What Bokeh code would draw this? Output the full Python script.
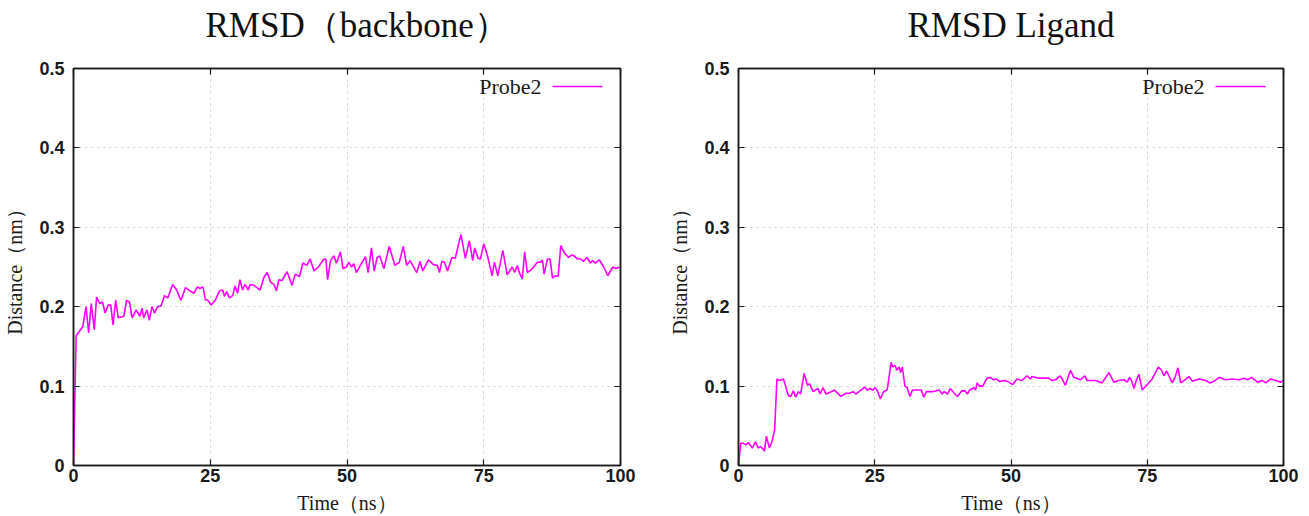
from bokeh.plotting import figure
from bokeh.layouts import row, column
from bokeh.models import Range1d, FixedTicker, LinearAxis, Label, Arrow
from bokeh.embed import file_html
from bokeh.resources import INLINE

# ---------------- data ----------------
titles = ["RMSD（backbone）", "RMSD Ligand"]
series_name = "Probe2"
x_label = "Time（ns）"
y_label = "Distance（nm）"
x_ticks = [0, 25, 50, 75, 100]
y_ticks = [0, 0.1, 0.2, 0.3, 0.4, 0.5]

time_backbone = [
    0.0, 0.48, 1.69, 2.29, 2.77, 3.25, 3.80, 4.22, 4.82, 5.30,
    5.78, 6.33, 6.81, 7.23, 7.71, 8.19, 9.22, 9.70, 10.24, 10.72,
    11.45, 12.11, 12.53, 12.83, 13.43, 13.86, 14.34, 14.82, 15.36, 16.02,
    16.63, 17.23, 18.13, 18.86, 19.64, 20.48, 21.27, 22.05, 22.65, 23.07,
    23.67, 24.10, 24.58, 25.18, 25.90, 26.69, 27.29, 27.59, 28.01, 28.49,
    29.10, 29.52, 30.00, 30.42, 30.90, 31.33, 31.93, 32.29, 33.01, 34.10,
    34.82, 35.42, 36.02, 36.63, 37.11, 37.53, 38.13, 39.04, 39.94, 40.54,
    41.33, 41.93, 42.65, 43.25, 43.98, 44.76, 45.66, 46.14, 46.45, 46.99,
    47.59, 48.07, 48.80, 49.26, 49.88, 50.37, 50.80, 51.23, 51.72, 52.45,
    53.37, 53.86, 54.47, 54.96, 55.51, 56.00, 56.74, 57.72, 58.76, 59.56,
    60.29, 60.91, 61.52, 62.75, 63.36, 63.85, 64.89, 65.81, 66.54, 66.91,
    67.34, 67.83, 68.38, 69.18, 69.79, 70.83, 71.63, 72.37, 72.98, 73.35,
    73.96, 74.39, 75.00, 75.61, 76.53, 76.96, 77.57, 78.49, 79.29, 80.21,
    80.64, 81.13, 81.56, 82.05, 82.48, 82.97, 83.88, 84.80, 85.42, 85.72,
    86.03, 86.64, 87.13, 87.56, 88.05, 88.60, 89.09, 89.71, 90.50, 91.05,
    91.54, 92.16, 92.77, 93.20, 93.87, 94.49, 94.91, 95.40, 96.14, 96.94,
    97.67, 98.59, 99.20, 99.82,
]
rmsd_backbone = [
    0.0, 0.163, 0.175, 0.200, 0.167, 0.204, 0.171, 0.212, 0.204, 0.206,
    0.192, 0.202, 0.202, 0.177, 0.208, 0.186, 0.188, 0.208, 0.206, 0.186,
    0.196, 0.188, 0.198, 0.186, 0.196, 0.183, 0.200, 0.192, 0.200, 0.201,
    0.214, 0.211, 0.228, 0.221, 0.208, 0.224, 0.220, 0.217, 0.225, 0.223,
    0.225, 0.209, 0.208, 0.202, 0.208, 0.220, 0.221, 0.213, 0.219, 0.211,
    0.214, 0.226, 0.217, 0.234, 0.221, 0.228, 0.221, 0.228, 0.227, 0.221,
    0.237, 0.243, 0.231, 0.228, 0.220, 0.234, 0.233, 0.244, 0.227, 0.241,
    0.238, 0.255, 0.252, 0.260, 0.245, 0.250, 0.259, 0.260, 0.234, 0.258,
    0.264, 0.255, 0.269, 0.248, 0.250, 0.256, 0.250, 0.254, 0.243, 0.252,
    0.263, 0.243, 0.274, 0.245, 0.262, 0.264, 0.248, 0.276, 0.252, 0.256,
    0.276, 0.252, 0.258, 0.243, 0.257, 0.245, 0.259, 0.253, 0.252, 0.243,
    0.257, 0.256, 0.245, 0.262, 0.261, 0.291, 0.261, 0.283, 0.258, 0.274,
    0.261, 0.260, 0.279, 0.266, 0.239, 0.256, 0.239, 0.271, 0.240, 0.250,
    0.243, 0.252, 0.242, 0.235, 0.269, 0.243, 0.248, 0.256, 0.256, 0.259,
    0.241, 0.260, 0.260, 0.236, 0.239, 0.238, 0.277, 0.268, 0.262, 0.265,
    0.264, 0.260, 0.260, 0.257, 0.262, 0.255, 0.258, 0.255, 0.259, 0.250,
    0.239, 0.250, 0.248, 0.250,
]

time_ligand = [
    0.0, 0.42, 0.84, 1.33, 1.81, 2.53, 3.13, 3.61, 4.04, 4.46,
    4.76, 5.12, 5.66, 6.14, 6.63, 7.05, 7.47, 7.83, 8.25, 9.16,
    9.58, 10.06, 10.48, 10.96, 11.39, 12.05, 12.65, 13.07, 13.67, 14.58,
    15.00, 15.48, 16.08, 16.99, 17.59, 18.80, 19.70, 20.30, 21.08, 21.51,
    22.11, 22.89, 23.13, 23.61, 24.10, 24.64, 25.12, 25.54, 26.02, 26.63,
    27.23, 27.41, 28.01, 28.31, 28.73, 29.04, 29.46, 29.76, 30.06, 30.54,
    30.96, 31.45, 31.93, 32.65, 33.55, 33.98, 34.46, 35.66, 36.87, 37.35,
    37.77, 38.37, 38.86, 39.58, 40.18, 40.96, 41.57, 41.99, 42.41, 43.19,
    43.49, 43.80, 44.22, 44.82, 45.60, 46.20, 46.81, 47.29, 47.83, 48.96,
    49.57, 50.31, 51.10, 52.02, 52.94, 53.55, 53.86, 55.09, 56.92, 57.54,
    58.15, 59.07, 59.99, 60.91, 61.52, 62.75, 63.54, 63.97, 65.50, 66.73,
    67.95, 68.87, 69.79, 70.71, 71.32, 71.75, 72.12, 72.55, 72.98, 73.47,
    74.08, 75.00, 75.92, 77.02, 77.63, 78.06, 78.55, 79.60, 80.09, 80.64,
    81.13, 81.74, 82.66, 83.27, 84.50, 85.72, 86.46, 87.25, 88.17, 89.40,
    90.63, 91.85, 92.77, 93.38, 94.18, 95.22, 96.14, 96.75, 97.67, 98.59,
    99.51, 99.94,
]
rmsd_ligand = [
    0.0, 0.028, 0.028, 0.026, 0.029, 0.022, 0.030, 0.022, 0.024, 0.021,
    0.018, 0.037, 0.022, 0.030, 0.045, 0.109, 0.107, 0.108, 0.109, 0.088,
    0.087, 0.094, 0.086, 0.093, 0.090, 0.116, 0.101, 0.103, 0.093, 0.097,
    0.090, 0.098, 0.090, 0.093, 0.095, 0.087, 0.091, 0.091, 0.093, 0.090,
    0.093, 0.097, 0.099, 0.095, 0.097, 0.095, 0.098, 0.093, 0.084, 0.093,
    0.095, 0.101, 0.130, 0.124, 0.126, 0.120, 0.124, 0.117, 0.124, 0.100,
    0.098, 0.087, 0.095, 0.095, 0.095, 0.086, 0.093, 0.093, 0.095, 0.090,
    0.093, 0.090, 0.097, 0.091, 0.087, 0.094, 0.094, 0.090, 0.095, 0.098,
    0.095, 0.104, 0.100, 0.100, 0.110, 0.111, 0.108, 0.109, 0.106, 0.107,
    0.105, 0.102, 0.109, 0.107, 0.113, 0.109, 0.112, 0.110, 0.110, 0.107,
    0.108, 0.113, 0.101, 0.120, 0.111, 0.108, 0.113, 0.107, 0.107, 0.104,
    0.117, 0.105, 0.107, 0.108, 0.105, 0.111, 0.107, 0.097, 0.107, 0.115,
    0.095, 0.102, 0.109, 0.124, 0.120, 0.113, 0.119, 0.104, 0.111, 0.123,
    0.104, 0.107, 0.112, 0.106, 0.109, 0.107, 0.104, 0.106, 0.111, 0.108,
    0.109, 0.108, 0.110, 0.108, 0.111, 0.105, 0.107, 0.104, 0.109, 0.107,
    0.105, 0.107,
]

# ---------------- styling ----------------
TITLE_H = 50          # strip holding the title
H = 466               # chart below it (total 516)
BORDER_TOP = 18
BORDER_BOTTOM = 51
SERIF = "Liberation Serif"
SANS = "Liberation Sans"
LINE_COLOR = "#ff00ff"
INK = "#1a1a1a"


def style_axis(ax, hide_labels=False):
    ax.major_tick_in = 6
    ax.major_tick_out = 0
    ax.minor_tick_line_color = None
    ax.axis_line_color = INK
    ax.axis_line_width = 1.5
    ax.major_tick_line_color = INK
    ax.major_tick_line_width = 1.2
    if hide_labels:
        ax.major_label_overrides = {t: "" for t in ax.ticker.ticks}
        ax.major_label_text_font_size = "1px"
        ax.major_label_standoff = 0
    else:
        ax.major_label_text_font = SANS
        ax.major_label_text_font_style = "bold"
        ax.major_label_text_font_size = "18px"
        ax.major_label_text_color = INK
        ax.axis_label_text_font = SERIF
        ax.axis_label_text_font_style = "normal"
        ax.axis_label_text_font_size = "20px"
        ax.axis_label_text_color = INK


def make_title(title, width, border_left, border_right, title_align, title_offset):
    t = figure(width=width, height=TITLE_H, output_backend="svg", toolbar_location=None,
               x_axis_location=None, y_axis_location=None,
               min_border_left=border_left, min_border_right=border_right,
               min_border_top=0, min_border_bottom=0)
    t.grid.visible = False
    t.outline_line_color = None
    t.title.text = title
    t.title.text_font = SERIF
    t.title.text_font_size = "35px"
    t.title.text_font_style = "normal"
    t.title.text_color = "#111111"
    t.title.align = title_align
    t.title.offset = title_offset
    t.title.standoff = 6
    return t


def make_fig(xs, ys, width, border_left, border_right):
    p = figure(width=width, height=H, output_backend="svg", toolbar_location=None,
               x_range=Range1d(0, 100), y_range=Range1d(0, 0.5),
               min_border_left=border_left, min_border_right=border_right,
               min_border_top=BORDER_TOP, min_border_bottom=BORDER_BOTTOM)

    p.outline_line_color = INK
    p.outline_line_width = 1.5
    p.background_fill_color = "white"
    p.border_fill_color = "white"

    p.xaxis.ticker = FixedTicker(ticks=x_ticks)
    p.yaxis.ticker = FixedTicker(ticks=y_ticks)
    p.yaxis.major_label_overrides = {0: "0"}
    p.xaxis.axis_label = x_label
    p.yaxis.axis_label = y_label
    style_axis(p.xaxis[0])
    style_axis(p.yaxis[0])
    p.xaxis.major_label_standoff = 3
    p.xaxis.axis_label_standoff = 7
    p.yaxis.major_label_standoff = 9
    p.yaxis.axis_label_standoff = 10

    # mirrored tick marks on the top and right edges of the box
    top = LinearAxis(ticker=FixedTicker(ticks=x_ticks))
    right = LinearAxis(ticker=FixedTicker(ticks=y_ticks))
    style_axis(top, hide_labels=True)
    style_axis(right, hide_labels=True)
    p.add_layout(top, "above")
    p.add_layout(right, "right")

    p.xgrid.ticker = FixedTicker(ticks=x_ticks)
    p.ygrid.ticker = FixedTicker(ticks=y_ticks)
    p.grid.grid_line_color = "#cfcfcf"
    p.grid.grid_line_dash = "dotted"
    p.grid.grid_line_width = 1

    p.line(xs, ys, line_color=LINE_COLOR, line_width=1.6)

    # legend (text left of the sample line, as in the original)
    frame_w = width - border_left - border_right
    frame_h = H - BORDER_TOP - BORDER_BOTTOM
    key_y = frame_h - 18
    p.add_layout(Label(x=frame_w - 79, y=key_y, x_units="screen", y_units="screen",
                       text=series_name, text_align="right", text_baseline="middle",
                       text_font=SERIF, text_font_size="22px", text_color=INK))
    p.add_layout(Arrow(x_start=frame_w - 68, y_start=key_y, x_end=frame_w - 18, y_end=key_y,
                       start_units="screen", end_units="screen", start=None, end=None,
                       line_color=LINE_COLOR, line_width=1.6))
    return p


t1 = make_title(titles[0], 655, 73, 35, "left", 132)
p1 = make_fig(time_backbone, rmsd_backbone, 655, 73, 35)
t2 = make_title(titles[1], 654, 83, 26, "center", 0)
p2 = make_fig(time_ligand, rmsd_ligand, 654, 83, 26)

layout = row(column(t1, p1), column(t2, p2))
open("out.html", "w").write(file_html(layout, INLINE))
